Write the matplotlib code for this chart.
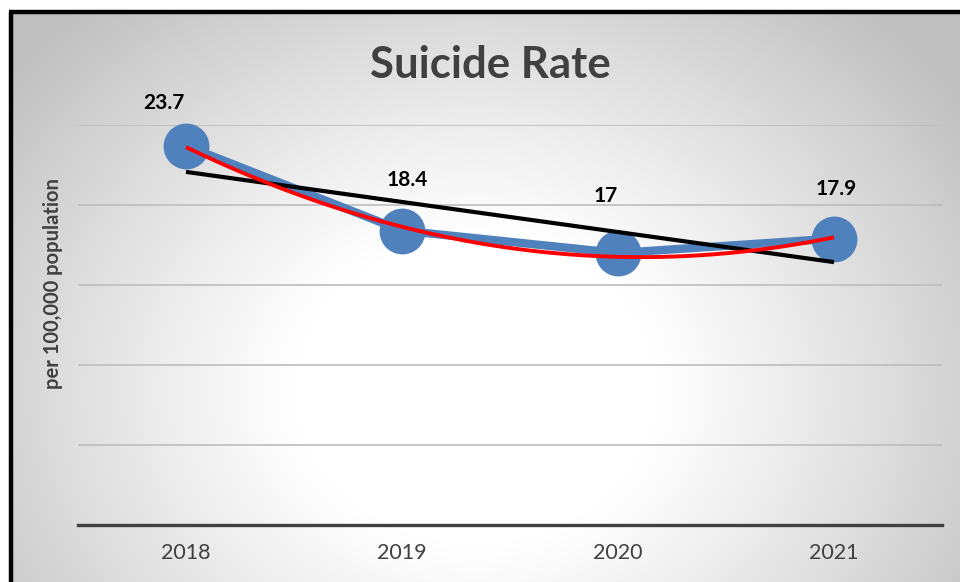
import numpy as np
import matplotlib
matplotlib.use("Agg")
import matplotlib.pyplot as plt
from matplotlib.patches import Rectangle

years = ["2018", "2019", "2020", "2021"]
rates = [23.7, 18.4, 17.0, 17.9]
rate_labels = ["23.7", "18.4", "17", "17.9"]
title = "Suicide Rate"
ylabel = "per 100,000 population"

W, H = 960, 582
fig = plt.figure(figsize=(W / 100, H / 100), dpi=100)
fig.patch.set_facecolor("white")

# radial gradient background
bg = fig.add_axes([0, 0, 1, 1])
bg.set_axis_off()
yy, xx = np.mgrid[0:H, 0:W]
cx, cy = 475, 390
r = np.sqrt(((xx - cx) / 1.0) ** 2 + ((yy - cy) / 0.85) ** 2)
t = np.clip((r - 180) / 420, 0, 1)
val = 1.0 - 0.25 * t ** 1.1
img = np.dstack([val, val, val])
bg.imshow(img, extent=[0, W, H, 0], aspect="auto", interpolation="bilinear")
bg.set_xlim(0, W)
bg.set_ylim(H, 0)
# white margins + black border (left & top)
bg.add_patch(Rectangle((0, 0), W, 10, color="white", zorder=3))
bg.add_patch(Rectangle((0, 0), 9, H, color="white", zorder=3))
bg.plot([10.5, 10.5], [12, H + 5], color="black", lw=3.2, zorder=4, solid_capstyle="butt")
bg.plot([9, W + 5], [12, 12], color="black", lw=3.2, zorder=4, solid_capstyle="butt")

font = "Lato"
ax = fig.add_axes([78 / W, (H - 525) / H, 864 / W, 400 / H])
ax.set_facecolor("none")
x = np.arange(len(years))
ax.set_xlim(-0.5, len(years) - 0.5)
ax.set_ylim(0, 25)
for s in ["top", "right", "left"]:
    ax.spines[s].set_visible(False)
ax.spines["bottom"].set_color("#404040")
ax.spines["bottom"].set_linewidth(2.4)
ax.set_yticks([5, 10, 15, 20, 25])
ax.yaxis.grid(True, color="#BDBDBD", lw=1.2)
ax.set_axisbelow(True)
ax.tick_params(axis="y", left=False, labelleft=False)
ax.tick_params(axis="x", length=0, pad=13)
ax.set_xticks(x)
ax.set_xticklabels(years, fontsize=15.5, color="#404040", family=font)

# data line
ax.plot(x, rates, color="#4F81BD", lw=6, marker="o", ms=32, mfc="#4F81BD",
        mec="#4F81BD", zorder=3, clip_on=False, solid_capstyle="round")

# linear trend
p1 = np.polyfit(x, rates, 1)
ax.plot(x[[0, -1]], np.polyval(p1, x[[0, -1]]), color="black", lw=3, zorder=4,
        solid_capstyle="butt")
# polynomial (order 2) trend
p2 = np.polyfit(x, rates, 2)
xs = np.linspace(x[0], x[-1], 200)
ax.plot(xs, np.polyval(p2, xs), color="#FF0000", lw=2.8, zorder=5, solid_capstyle="butt")

offsets = [(-22, 43), (5, 51), (-12, 57), (2, 50)]
for xi, yi, lab, (dx, dy) in zip(x, rates, rate_labels, offsets):
    ax.annotate(lab, (xi, yi), xytext=(dx * 0.72, dy * 0.72), textcoords="offset points",
                ha="center", va="center", fontsize=15, fontweight="bold",
                color="black", family=font, zorder=6)

fig.text(490 / W, 1 - 65 / H, title, ha="center", va="center", fontsize=31.5,
         fontweight="bold", color="#404040", family=font)
fig.text(53 / W, 1 - 284 / H, ylabel, ha="center", va="center", rotation=90,
         fontsize=14.5, fontweight="bold", color="#404040", family=font)

fig.savefig("out.png", dpi=100)
